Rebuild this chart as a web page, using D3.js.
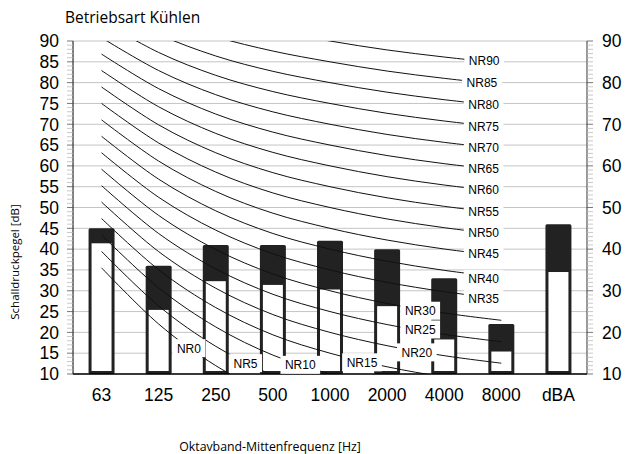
<!DOCTYPE html>
<html><head><meta charset="utf-8">
<script src="https://cdn.jsdelivr.net/npm/d3@7"></script>
<style>body{margin:0;background:#fff}svg{display:block}</style>
</head><body>
<svg id="c" width="625" height="454"></svg>
<script>
const categories = ["63","125","250","500","1000","2000","4000","8000","dBA"];
const totalLevel = [45, 36, 41, 41, 42, 40, 33, 22, 46];
const innerLevel = [41.4, 25.4, 32.3, 31.4, 30.3, 26.3, 18.3, 15.4, 34.5];
const nrNames = ["NR0","NR5","NR10","NR15","NR20","NR25","NR30","NR35","NR40","NR45","NR50","NR55","NR60","NR65","NR70","NR75","NR80","NR85","NR90"];
// NR curve levels at 63,125,250,500,1000,2000,4000,8000 Hz
const nrValues = [
 [35.5, 22.0, 12.0, 4.8, 0, -3.5, -6.1, -8.0],
 [39.45, 26.35, 16.65, 9.67, 5, 1.58, -0.98, -2.85],
 [43.4, 30.7, 21.3, 14.54, 10, 6.65, 4.15, 2.3],
 [47.35, 35.05, 25.95, 19.41, 15, 11.73, 9.28, 7.45],
 [51.3, 39.4, 30.6, 24.28, 20, 16.8, 14.4, 12.6],
 [55.25, 43.75, 35.25, 29.15, 25, 21.88, 19.53, 17.75],
 [59.2, 48.1, 39.9, 34.02, 30, 26.95, 24.65, 22.9],
 [63.15, 52.45, 44.55, 38.89, 35, 32.03, 29.78, 28.05],
 [67.1, 56.8, 49.2, 43.76, 40, 37.1, 34.9, 33.2],
 [71.05, 61.15, 53.85, 48.63, 45, 42.18, 40.03, 38.35],
 [75.0, 65.5, 58.5, 53.5, 50, 47.25, 45.15, 43.5],
 [78.95, 69.85, 63.15, 58.37, 55, 52.33, 50.28, 48.65],
 [82.9, 74.2, 67.8, 63.24, 60, 57.4, 55.4, 53.8],
 [86.85, 78.55, 72.45, 68.11, 65, 62.48, 60.53, 58.95],
 [90.8, 82.9, 77.1, 72.98, 70, 67.55, 65.65, 64.1],
 [94.75, 87.25, 81.75, 77.85, 75, 72.63, 70.78, 69.25],
 [98.7, 91.6, 86.4, 82.72, 80, 77.7, 75.9, 74.4],
 [102.65, 95.95, 91.05, 87.59, 85, 82.78, 81.03, 79.55],
 [106.6, 100.3, 95.7, 92.46, 90, 87.85, 86.15, 84.7]
];
// label anchor: fractional category index and level
const nrLabelIdx = [1.53, 2.52, 3.48, 4.56, 5.52, 5.58, 5.58, 6.69, 6.69, 6.69, 6.69, 6.69, 6.69, 6.69, 6.69, 6.69, 6.69, 6.66, 6.70];
const nrLabelVal = [16.2, 12.6, 12.2, 12.8, 15.2, 20.7, 25.2, 28.0, 32.8, 38.9, 43.9, 49.0, 54.2, 59.3, 64.3, 69.5, 74.7, 79.9, 85.2];
const leftTicks = [10,15,20,25,30,35,40,45,50,55,60,65,70,75,80,85,90];
const rightTicks = [10,20,30,40,50,60,70,80,90];

const svg = d3.select("#c");
const x = d3.scaleBand().domain(categories).range([73, 587]).padding(0);
const y = d3.scaleLinear().domain([10, 90]).range([374, 41]);
const cx = c => x(c) + x.bandwidth() / 2;
const xAt = f => x.range()[0] + x.step() * (f + 0.5);
const barW = x.bandwidth() * 0.455;
const inset = 3;

// title
svg.append("text").attr("x", 65).attr("y", 23)
  .attr("font-family", "Open Sans").attr("font-size", 15.5).attr("fill", "#000")
  .text("Betriebsart Kühlen");

// gridlines
svg.append("g").selectAll("line").data(leftTicks).join("line")
  .attr("x1", 73).attr("x2", 587)
  .attr("y1", d => y(d)).attr("y2", d => y(d))
  .attr("stroke", "#c4c4c4").attr("stroke-width", 1);

// bars
const bars = svg.append("g");
bars.selectAll("rect.outer").data(categories).join("rect").attr("class","outer")
  .attr("x", d => cx(d) - barW/2).attr("width", barW)
  .attr("y", (d,i) => y(totalLevel[i])).attr("height", (d,i) => y(10) - y(totalLevel[i]))
  .attr("rx", 1.5).attr("fill", "#222");
bars.selectAll("rect.inner").data(categories).join("rect").attr("class","inner")
  .attr("x", d => cx(d) - barW/2 + inset).attr("width", barW - 2*inset)
  .attr("y", (d,i) => y(innerLevel[i])).attr("height", (d,i) => y(10) - inset - y(innerLevel[i]))
  .attr("fill", "#fff");

// NR curves
svg.append("clipPath").attr("id","plotclip").append("rect")
  .attr("x", 73).attr("y", y(90)).attr("width", 514).attr("height", y(10) - y(90));
const line = d3.line().x((d,i) => cx(categories[i])).y(d => y(d)).curve(d3.curveCardinal);
svg.append("g").attr("clip-path","url(#plotclip)").selectAll("path").data(nrValues).join("path")
  .attr("d", line).attr("fill","none").attr("stroke","#111").attr("stroke-width",1);

// axes
const ax = svg.append("g");
ax.append("line").attr("x1",73).attr("x2",73).attr("y1",y(90)).attr("y2",y(10)).attr("stroke","#000");
ax.append("line").attr("x1",587).attr("x2",587).attr("y1",y(90)).attr("y2",y(10)).attr("stroke","#333");
ax.append("line").attr("x1",73).attr("x2",587).attr("y1",y(10)).attr("y2",y(10)).attr("stroke","#000").attr("stroke-width",1.5);
const minor = d3.range(10, 91, 1);
ax.selectAll("line.ml").data(minor).join("line").attr("class","ml")
  .attr("x1", 67).attr("x2", 73).attr("y1", d => y(d)).attr("y2", d => y(d))
  .attr("stroke", d => d % 5 === 0 ? "#555" : "#bbb").attr("stroke-width", 0.8);
ax.selectAll("line.mr").data(minor).join("line").attr("class","mr")
  .attr("x1", 587).attr("x2", 593).attr("y1", d => y(d)).attr("y2", d => y(d))
  .attr("stroke", d => d % 10 === 0 ? "#555" : "#bbb").attr("stroke-width", 0.8);
ax.selectAll("text.yl").data(leftTicks).join("text").attr("class","yl")
  .attr("x", 59).attr("y", d => y(d)).attr("dy","0.36em").attr("text-anchor","end")
  .attr("font-family","Liberation Sans, Arial").attr("font-size",17.5).text(d => d);
ax.selectAll("text.yr").data(rightTicks).join("text").attr("class","yr")
  .attr("x", 602).attr("y", d => y(d)).attr("dy","0.36em").attr("text-anchor","start")
  .attr("font-family","Liberation Sans, Arial").attr("font-size",17.5).text(d => d);
ax.selectAll("text.xl").data(categories).join("text").attr("class","xl")
  .attr("x", d => cx(d)).attr("y", 401).attr("text-anchor","middle")
  .attr("font-family","Liberation Sans, Arial").attr("font-size",17.5).text(d => d);

// axis titles
svg.append("text").attr("transform","translate(19,262) rotate(-90)").attr("text-anchor","middle")
  .attr("font-family","Open Sans").attr("font-size",11.5).text("Schalldruckpegel [dB]");
svg.append("text").attr("x",270).attr("y",451).attr("text-anchor","middle")
  .attr("font-family","Open Sans").attr("font-size",12.3).text("Oktavband-Mittenfrequenz [Hz]");

// NR labels
const lg = svg.append("g").selectAll("g").data(nrNames).join("g")
  .attr("transform", (d,i) => `translate(${xAt(nrLabelIdx[i])},${y(nrLabelVal[i])})`);
lg.append("rect").attr("x",-20).attr("y",-9).attr("width",40).attr("height",18).attr("fill","#fff");
lg.append("text").attr("text-anchor","middle").attr("dy","0.36em")
  .attr("font-family","Liberation Sans, Arial").attr("font-size",12).text(d => d);
lg.each(function(){
  const g = d3.select(this); const w = g.select("text").node().getComputedTextLength();
  g.select("rect").attr("x", -w/2 - 4.5).attr("width", w + 9);
});
</script>
</body></html>
